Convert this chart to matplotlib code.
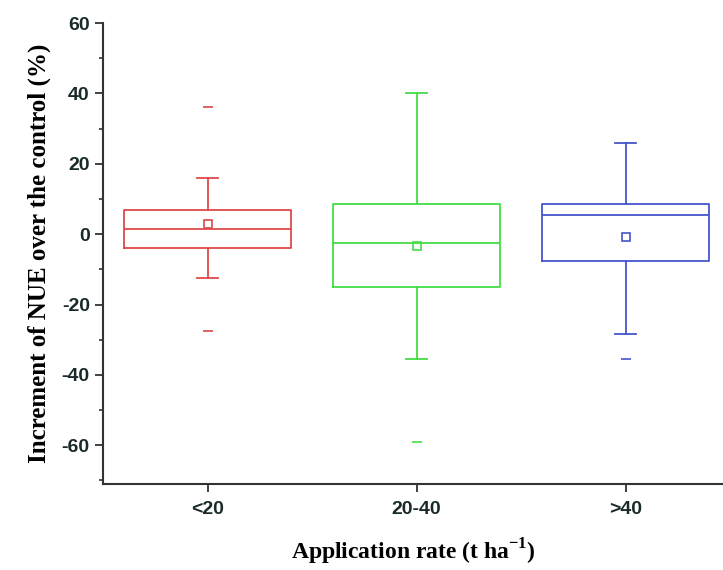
import matplotlib
matplotlib.use('Agg')
import matplotlib.pyplot as plt

# values
categories = ['<20', '20-40', '>40']
whislo = [-12.5, -35.5, -28.5]
q1 = [-4, -15, -7.5]
med = [1.5, -2.5, 5.5]
q3 = [7, 8.5, 8.5]
whishi = [16, 40, 26]
means = [3, -3.5, -0.8]
outliers = [[36, -27.5], [-59], [-35.5]]
colors = ['#dd4a4a', '#44dd44', '#4455cc']

plt.rcParams['mathtext.fontset'] = 'custom'
plt.rcParams['mathtext.rm'] = 'Liberation Serif'
plt.rcParams['mathtext.bf'] = 'Liberation Serif:bold'
plt.rcParams['axes.unicode_minus'] = False

fig = plt.figure(figsize=(7.23, 5.70), dpi=100)
ax = fig.add_axes([0.1425, 0.1509, 0.8575, 0.8087])

pos = [1, 2, 3]
for i in range(3):
    st = dict(med=med[i], q1=q1[i], q3=q3[i], whislo=whislo[i], whishi=whishi[i],
              mean=means[i], fliers=outliers[i], label=categories[i])
    c = colors[i]
    ax.bxp([st], positions=[pos[i]], widths=0.8, showmeans=True, meanline=False,
           boxprops=dict(color=c, lw=1.3),
           medianprops=dict(color=c, lw=1.3),
           whiskerprops=dict(color=c, lw=1.3),
           capprops=dict(color=c, lw=1.3),
           capwidths=0.1,
           meanprops=dict(marker='s', markersize=5.5, markerfacecolor='none',
                          markeredgecolor=c, markeredgewidth=1.2),
           flierprops=dict(marker='_', markersize=7, markeredgecolor=c,
                           markeredgewidth=1.2))

ax.set_xlim(0.5, 3.466)
ax.set_ylim(-71, 60)
ax.set_xticks(pos)
ax.set_xticklabels(categories)
ax.set_yticks([-60, -40, -20, 0, 20, 40, 60])
ax.set_yticks([-70, -50, -30, -10, 10, 30, 50], minor=True)

for s in ['top', 'right']:
    ax.spines[s].set_visible(False)
for s in ['left', 'bottom']:
    ax.spines[s].set_color('#333333')
    ax.spines[s].set_linewidth(1.5)

ax.tick_params(axis='both', which='major', direction='out', length=6, width=1.3,
               colors='#333333', labelcolor='#1a2a2a')
ax.tick_params(axis='x', which='major', pad=6)
ax.tick_params(axis='y', which='minor', direction='out', length=3, width=1.2, colors='#333333')
for lab in ax.get_xticklabels() + ax.get_yticklabels():
    lab.set_fontfamily('Liberation Sans')
    lab.set_fontweight('bold')
    lab.set_fontsize(14)

ax.set_ylabel('Increment of NUE over the control (%)', fontfamily='Liberation Serif',
              fontweight='bold', fontsize=18, labelpad=8)
ax.set_xlabel(r'Application rate (t ha$^{\mathbf{-1}}$)', fontfamily='Liberation Serif',
              fontweight='bold', fontsize=17, labelpad=14)

fig.savefig('out.png', dpi=100)
